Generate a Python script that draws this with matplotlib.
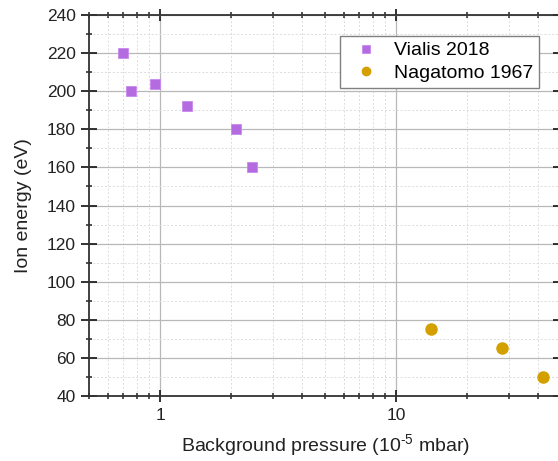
import matplotlib
matplotlib.use("Agg")
import matplotlib.pyplot as plt
from matplotlib.ticker import LogLocator, FixedLocator, MultipleLocator, NullFormatter, FixedFormatter

plt.rcParams['font.family'] = ['Liberation Sans', 'DejaVu Sans']
plt.rcParams['mathtext.default'] = 'regular'

vialis_p = [0.70, 0.75, 0.95, 1.30, 2.10, 2.45]
vialis_e = [220, 200, 204, 192, 180, 160]
naga_p = [14.1, 28.0, 42.1]
naga_e = [75, 65, 50]

xlim = (0.5, 50)
ylim = (40, 240)

fig = plt.figure(figsize=(5.58, 4.61), dpi=100)
ax = fig.add_axes([89/558, 65/461, 472/558, 381/461])

ax.set_xscale('log')
ax.set_xlim(*xlim)
ax.set_ylim(*ylim)

ax.xaxis.set_major_locator(FixedLocator([1, 10]))
ax.xaxis.set_major_formatter(FixedFormatter(['1', '10']))
ax.xaxis.set_minor_locator(LogLocator(base=10, subs=range(2, 10)))
ax.xaxis.set_minor_formatter(NullFormatter())
ax.yaxis.set_major_locator(MultipleLocator(20))
ax.yaxis.set_minor_locator(MultipleLocator(10))

ax.grid(True, which='major', color='#b8b8b8', lw=0.9)
ax.grid(True, which='minor', color='#dcdcdc', lw=0.7, ls=(0, (2, 2)))
ax.set_axisbelow(True)

for s in ax.spines.values():
    s.set_linewidth(1.3)
    s.set_color('#333333')

ax.tick_params(which='both', direction='inout', top=True, right=True,
               color='#222222', labelsize=12.5, labelcolor='#222222')
ax.tick_params(which='major', length=9, width=1.3, pad=4)
ax.tick_params(axis='y', which='major', length=11)
ax.tick_params(which='minor', length=5, width=1.1)

ax.plot(vialis_p, vialis_e, ls='none', marker='s', ms=7.5, color='#b56be0',
        mec='#c98af0', mew=0.6, label='Vialis 2018', zorder=3)
ax.plot(naga_p, naga_e, ls='none', marker='o', ms=8, color='#d4a000',
        mec='#d4a000', label='Nagatomo 1967', zorder=3)

ax.set_xlabel('Background pressure (10$^{\u20105}$ mbar)', fontsize=14, labelpad=7, color='#222222')
ax.set_ylabel('Ion energy (eV)', fontsize=14, labelpad=11, color='#222222')

leg = ax.legend(loc='upper right', bbox_to_anchor=(0.953, 0.945), borderaxespad=0,
                fontsize=14, fancybox=False, framealpha=1, edgecolor='#808080',
                handlelength=2.0, handletextpad=0.45, borderpad=0.3, labelspacing=0.25,
                markerscale=0.75)
leg.get_frame().set_linewidth(1.0)

fig.savefig('out.png', dpi=100)
